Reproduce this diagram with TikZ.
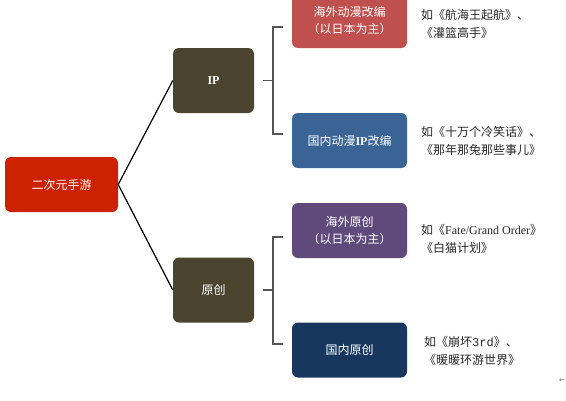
\documentclass[tikz,border=0pt]{standalone}
\usepackage{fontspec}
\setmainfont{Liberation Serif}
\newfontfamily\cjk{Noto Sans CJK SC}
\newfontfamily\symf{DejaVu Sans}
\definecolor{rootred}{HTML}{CD2200}
\definecolor{olive}{HTML}{4B4530}
\definecolor{redbox}{HTML}{C0504D}
\definecolor{bluebox}{HTML}{3A6496}
\definecolor{purplebox}{HTML}{604A7B}
\definecolor{navybox}{HTML}{17375E}
\definecolor{brk}{HTML}{555555}
\tikzset{
  box/.style={rounded corners=6pt, text=white, align=center,
    font=\cjk\fontsize{12}{17}\selectfont, inner sep=0pt},
  rootbox/.style={box, fill=rootred, minimum width=113pt, minimum height=55pt},
  midbox/.style={box, fill=olive, minimum width=81pt, minimum height=65pt},
  leafbox/.style={box, minimum width=115pt, minimum height=55pt},
  conn/.style={draw=black, line width=1.2pt},
  bracket/.style={draw=brk, line width=1.2pt},
  note/.style={anchor=west, align=left, inner sep=0pt,
    font=\cjk\fontsize{12}{18}\selectfont, text=black!85}
}
\begin{document}
\begin{tikzpicture}[x=1pt,y=-1pt]
\useasboundingbox (0,0) rectangle (566,400);
\fill[white] (0,0) rectangle (566,400);

\node[rootbox] (root) at (61.5,184.5) {二次元手游};
\node[midbox] (ip) at (213.5,80.5) {\fontspec{Liberation Serif}\bfseries IP};
\node[midbox] (orig) at (213.5,290) {原创};

\node[leafbox, fill=redbox] (a) at (349.5,20.5) {海外动漫改编\\（以日本为主）};
\node[leafbox, fill=bluebox] (b) at (349.5,140.5) {国内动漫{\fontspec{Liberation Serif}\bfseries IP}改编};
\node[leafbox, fill=purplebox] (c) at (349.5,230.5) {海外原创\\（以日本为主）};
\node[leafbox, fill=navybox] (d) at (349.5,350) {国内原创};

\draw[conn] (root.east) -- (ip.west);
\draw[conn] (root.east) -- (orig.west);

% brackets
\coordinate (b1m) at (273,80.5);
\coordinate (b1t) at (273,27);
\coordinate (b1b) at (273,134);
\coordinate (b1ts) at (283,27);
\coordinate (b1bs) at (283,134);
\coordinate (b1s) at (263,80.5);
\draw[bracket] (b1s) -- (b1m);
\draw[bracket] (b1ts) -- (b1t) -- (b1b) -- (b1bs);

\coordinate (b2m) at (273,290);
\coordinate (b2t) at (273,237);
\coordinate (b2b) at (273,344);
\coordinate (b2ts) at (283,237);
\coordinate (b2bs) at (283,344);
\coordinate (b2s) at (263,290);
\draw[bracket] (b2s) -- (b2m);
\draw[bracket] (b2ts) -- (b2t) -- (b2b) -- (b2bs);

\node[note] (na) at (421,24) {如《航海王起航》、\\《灌篮高手》};
\node[note] (nb) at (421,141) {如《十万个冷笑话》、\\《那年那兔那些事儿》};
\node[note] (nc) at (421,239) {如《{\fontspec{Liberation Serif}Fate/Grand Order}》\\《白猫计划》};
\node[note] (nd) at (424,351) {如《崩坏{\fontspec{Liberation Mono}3rd}》、\\《暖暖环游世界》};

\node[inner sep=0pt, text=black!60, font=\symf\fontsize{7}{7}\selectfont] (ret) at (562,381) {←};
\end{tikzpicture}
\end{document}
